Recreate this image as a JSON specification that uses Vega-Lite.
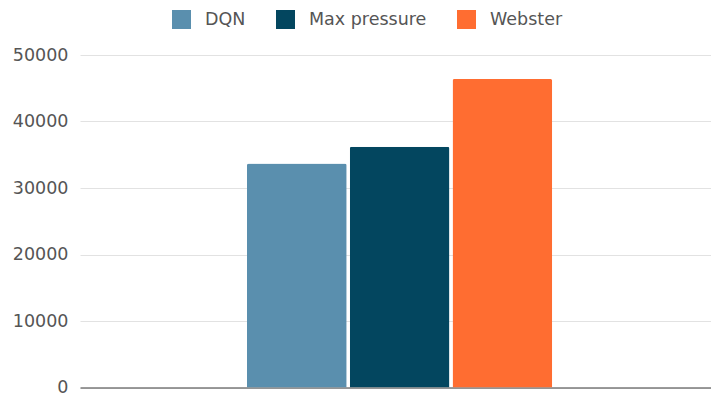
{
  "$schema": "https://vega.github.io/schema/vega-lite/v6.json",
  "width": 631,
  "height": 332.5,
  "autosize": {"type": "none"},
  "padding": {"left": 80, "top": 55, "right": 0, "bottom": 8.5},
  "background": "white",
  "data": {
    "values": [
      {"group": "Total", "method": "DQN", "value": 33700},
      {"group": "Total", "method": "Max pressure", "value": 36200},
      {"group": "Total", "method": "Webster", "value": 46400}
    ]
  },
  "mark": {"type": "bar", "cornerRadiusTopLeft": 2, "cornerRadiusTopRight": 2},
  "encoding": {
    "x": {
      "field": "group",
      "type": "nominal",
      "scale": {"paddingInner": 0, "paddingOuter": 0.5, "align": 0.513},
      "axis": {
        "title": null,
        "labels": false,
        "ticks": false,
        "domain": true,
        "domainColor": "#7a7a7a",
        "domainWidth": 1.5
      }
    },
    "xOffset": {
      "field": "method",
      "type": "nominal",
      "sort": ["DQN", "Max pressure", "Webster"],
      "scale": {"paddingInner": 0.03, "paddingOuter": 0.05}
    },
    "y": {
      "field": "value",
      "type": "quantitative",
      "scale": {"domain": [0, 50000], "nice": false},
      "axis": {
        "title": null,
        "values": [0, 10000, 20000, 30000, 40000, 50000],
        "format": "d",
        "domain": false,
        "ticks": false,
        "labelPadding": 12,
        "labelFont": "DejaVu Sans",
        "labelFontSize": 17.5,
        "labelColor": "#555555",
        "gridColor": "#e2e2e2",
        "gridWidth": 1
      }
    },
    "color": {
      "field": "method",
      "type": "nominal",
      "sort": ["DQN", "Max pressure", "Webster"],
      "scale": {
        "domain": ["DQN", "Max pressure", "Webster"],
        "range": ["#5a8fae", "#03465f", "#ff6d31"]
      },
      "legend": {
        "title": null,
        "orient": "none",
        "direction": "horizontal",
        "legendX": 92,
        "legendY": -45,
        "padding": 0,
        "symbolType": "square",
        "symbolSize": 361,
        "symbolStrokeWidth": 0,
        "symbolOpacity": 1,
        "labelOffset": 14,
        "columnPadding": 30,
        "labelFont": "DejaVu Sans",
        "labelFontSize": 17.5,
        "labelColor": "#555555"
      }
    }
  },
  "config": {"view": {"stroke": null}}
}
